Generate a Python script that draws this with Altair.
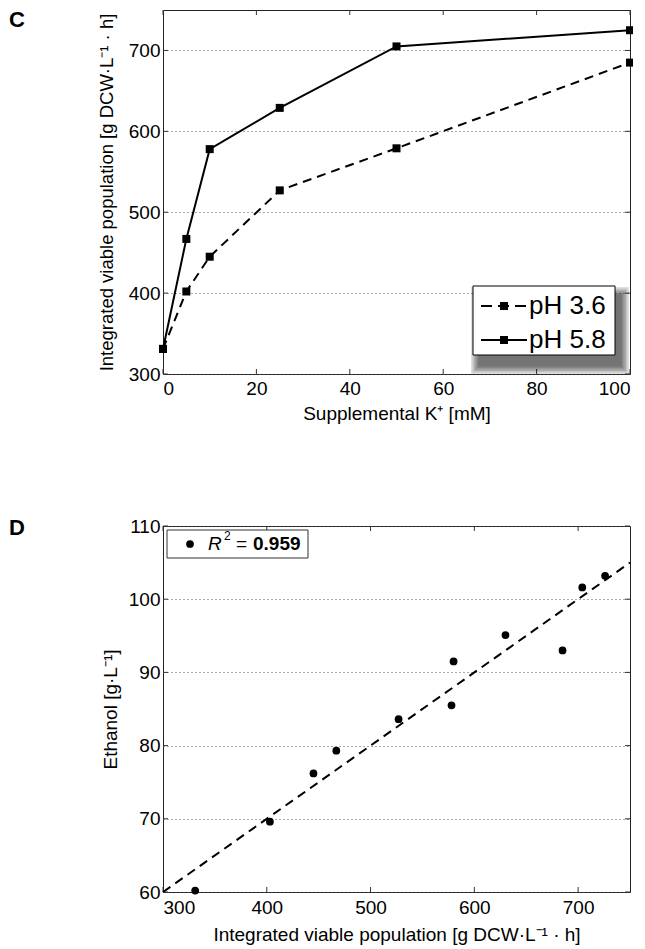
import altair as alt
import pandas as pd

# ---------------- data: panel C ----------------
k_mM = [0, 5, 10, 25, 50, 100]
pop_ph36 = [331, 402, 445, 527, 579, 685]
pop_ph58 = [331, 467, 578, 629, 705, 725]
series_names = ["pH 3.6", "pH 5.8"]
c_xticks = [0, 20, 40, 60, 80, 100]
c_yticks = [300, 400, 500, 600, 700]

# ---------------- data: panel D ----------------
pop_d = [331, 403, 445, 467, 527, 578, 580, 630, 685, 704, 726]
ethanol = [60.2, 69.6, 76.2, 79.3, 83.6, 85.5, 91.5, 95.1, 93.0, 101.6, 103.2]
fit_x = [300, 750]
fit_y = [60.0, 105.0]
d_xticks = [300, 400, 500, 600, 700]
d_yticks = [60, 70, 80, 90, 100, 110]
r2_value = "0.959"
panel_labels = ["C", "D"]

FONT = "Liberation Sans"
FS = 19
W, HC, HD = 467, 364, 366


def make_axis(values, title, tpad, lpad, grid, tfs=FS):
    return alt.Axis(
        values=values, title=title, grid=grid, gridDash=[1, 3], gridColor="#555",
        gridWidth=1, domain=False, ticks=False, tickSize=0, labelPadding=lpad,
        titlePadding=tpad, labelFont=FONT, titleFont=FONT, labelFontSize=FS,
        titleFontSize=tfs, titleFontWeight="normal", labelColor="black",
        titleColor="black",
    )


def one(label):
    return pd.DataFrame({"label": [label]})


def inner_ticks(xenc, yenc, xfield, yfield, xvals, yvals, h):
    tx = pd.DataFrame({xfield: xvals})
    ty = pd.DataFrame({yfield: yvals})
    r = dict(color="#333", strokeWidth=1)
    return [
        alt.Chart(tx).mark_rule(**r).encode(x=xenc, y=alt.value(h), y2=alt.value(h - 5)),
        alt.Chart(tx).mark_rule(**r).encode(x=xenc, y=alt.value(0), y2=alt.value(5)),
        alt.Chart(ty).mark_rule(**r).encode(y=yenc, x=alt.value(0), x2=alt.value(5)),
        alt.Chart(ty).mark_rule(**r).encode(y=yenc, x=alt.value(W), x2=alt.value(W - 5)),
    ]


# ---------------- panel C ----------------
xC = alt.X("k:Q", scale=alt.Scale(domain=[0, 100], nice=False),
           axis=make_axis(c_xticks, "Supplemental K⁺ [mM]", 6, 5, False))
yC = alt.Y("pop:Q", scale=alt.Scale(domain=[300, 750], nice=False, zero=False),
           axis=make_axis(c_yticks, "Integrated viable population [g DCW·L⁻¹ · h]", 12, 3, True, 18.5))

c36 = pd.DataFrame({"k": k_mM, "pop": pop_ph36})
c58 = pd.DataFrame({"k": k_mM, "pop": pop_ph58})

sq = dict(shape="square", filled=True, size=64, color="black", opacity=1)
layersC = inner_ticks(xC, yC, "k", "pop", c_xticks, c_yticks, HC)
layersC += [
    alt.Chart(c36).mark_line(color="black", strokeWidth=2, strokeDash=[9, 6]).encode(x=xC, y=yC),
    alt.Chart(c58).mark_line(color="black", strokeWidth=2).encode(x=xC, y=yC),
    alt.Chart(c36).mark_point(**sq).encode(x=xC, y=yC),
    alt.Chart(c58).mark_point(**sq).encode(x=xC, y=yC),
]

# legend (C) with soft drop shadow
bx1, bx2, by1, by2 = 310, 452, 276, 345
for s in [9, 7.5, 6, 4.5, 3, 1.5]:
    layersC.append(
        alt.Chart(one("")).mark_rect(color="black", opacity=0.12).encode(
            x=alt.value(bx1 + 7 - s), x2=alt.value(bx2 + 5 + s),
            y=alt.value(by1 + 10 - s), y2=alt.value(by2 + 10 + s)))
layersC.append(
    alt.Chart(one("")).mark_rect(fill="white", stroke="black", strokeWidth=1, opacity=1).encode(
        x=alt.value(bx1), x2=alt.value(bx2), y=alt.value(by1), y2=alt.value(by2)))
row_y = [296, 330]
dashes = [[11, 6], None]
for i, name in enumerate(series_names):
    rule_kw = dict(color="black", strokeWidth=2)
    if dashes[i]:
        rule_kw["strokeDash"] = dashes[i]
    layersC.append(alt.Chart(one(name)).mark_rule(**rule_kw).encode(
        x=alt.value(318), x2=alt.value(364), y=alt.value(row_y[i])))
    layersC.append(alt.Chart(one(name)).mark_point(**sq).encode(
        x=alt.value(341), y=alt.value(row_y[i])))
    layersC.append(alt.Chart(one(name)).mark_text(
        align="left", baseline="middle", fontSize=26, font=FONT, color="black").encode(
        x=alt.value(366), y=alt.value(row_y[i]), text="label:N"))

layersC.append(alt.Chart(one(panel_labels[0])).mark_text(
    align="left", baseline="top", fontSize=22, fontWeight="bold", font=FONT, color="black").encode(
    x=alt.value(-154), y=alt.value(0), text="label:N"))

chartC = alt.layer(*layersC).properties(width=W, height=HC)

# ---------------- panel D ----------------
xD = alt.X("pop:Q", scale=alt.Scale(domain=[300, 750], nice=False, zero=False),
           axis=make_axis(d_xticks, "Integrated viable population [g DCW·L⁻¹ · h]", 8, 6, False))
yD = alt.Y("eth:Q", scale=alt.Scale(domain=[60, 110], nice=False, zero=False),
           axis=make_axis(d_yticks, "Ethanol [g·L⁻¹]", 8, 3, True))

dpts = pd.DataFrame({"pop": pop_d, "eth": ethanol})
dfit = pd.DataFrame({"pop": fit_x, "eth": fit_y})

layersD = inner_ticks(xD, yD, "pop", "eth", d_xticks, d_yticks, HD)
layersD += [
    alt.Chart(dfit).mark_line(color="black", strokeWidth=2, strokeDash=[9, 6]).encode(x=xD, y=yD),
    alt.Chart(dpts).mark_circle(size=60, color="black", opacity=1).encode(x=xD, y=yD),
]
layersD.append(alt.Chart(one("")).mark_rect(fill="white", stroke="#333", strokeWidth=1, opacity=1).encode(
    x=alt.value(4), x2=alt.value(145), y=alt.value(4), y2=alt.value(32)))
layersD.append(alt.Chart(one("")).mark_circle(size=60, color="black", opacity=1).encode(
    x=alt.value(27), y=alt.value(18)))
txt = dict(align="left", baseline="middle", font=FONT, color="black")
layersD.append(alt.Chart(one("R")).mark_text(fontSize=19, fontStyle="italic", **txt).encode(
    x=alt.value(45), y=alt.value(18), text="label:N"))
layersD.append(alt.Chart(one("2")).mark_text(fontSize=12, **txt).encode(
    x=alt.value(61), y=alt.value(10), text="label:N"))
layersD.append(alt.Chart(one("=")).mark_text(fontSize=19, **txt).encode(
    x=alt.value(73), y=alt.value(18), text="label:N"))
layersD.append(alt.Chart(one(r2_value)).mark_text(fontSize=19, fontWeight="bold", **txt).encode(
    x=alt.value(90), y=alt.value(18), text="label:N"))
layersD.append(alt.Chart(one(panel_labels[1])).mark_text(
    align="left", baseline="top", fontSize=22, fontWeight="bold", font=FONT, color="black").encode(
    x=alt.value(-154), y=alt.value(-8), text="label:N"))

chartD = alt.layer(*layersD).properties(width=W, height=HD)

chart = alt.vconcat(chartC, chartD, spacing=92).properties(
    padding={"left": 0, "top": 0, "right": -2, "bottom": 0}
).configure_view(stroke="#222", strokeWidth=1)

chart.save("out.html", embed_options={"renderer": "svg", "actions": False})
